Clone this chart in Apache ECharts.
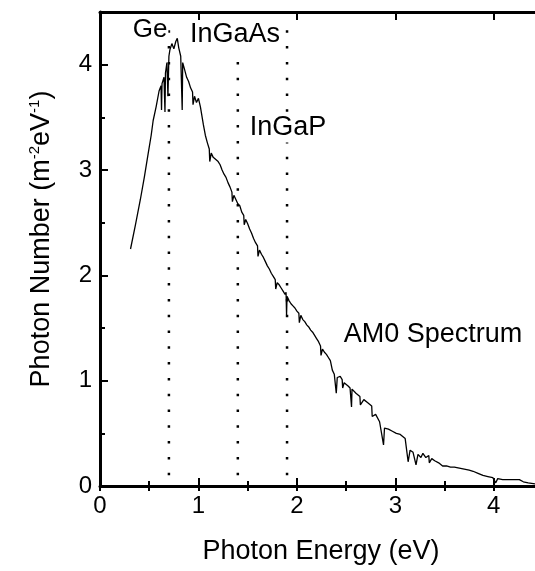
<!DOCTYPE html>
<html><head><meta charset="utf-8">
<script src="https://cdn.jsdelivr.net/npm/echarts@6/dist/echarts.min.js"></script>
<style>html,body{margin:0;padding:0;background:#fff}#c{width:535px;height:571px}</style>
</head><body><div id="c"></div>
<script>
// Photon energy (eV)
const energy = [
  0.31,0.36,0.41,0.45,0.49,0.52,0.54,0.57,0.60,0.62,0.625,0.63,0.65,0.66,0.665,0.68,0.69,0.70,0.71,0.73,
  0.75,0.77,0.785,0.80,0.82,0.835,0.84,0.86,0.88,0.90,0.92,0.94,0.945,0.96,0.98,1.00,1.02,1.05,1.07,1.09,1.11,1.115,
  1.13,1.15,1.17,1.20,1.22,1.24,1.26,1.28,1.30,1.32,1.34,1.345,1.36,1.38,1.40,1.42,1.44,1.46,1.465,1.48,1.50,1.52,
  1.54,1.56,1.58,1.60,1.605,1.62,1.64,1.66,1.68,1.70,1.72,1.74,1.76,1.78,1.785,1.80,1.82,1.84,1.86,1.88,1.89,1.895,
  1.90,1.92,1.94,1.96,1.98,2.00,2.02,2.025,2.04,2.06,2.08,2.10,2.12,2.14,2.16,2.18,2.20,2.22,2.24,2.245,2.26,2.28,
  2.30,2.32,2.34,2.36,2.38,2.40,2.41,2.44,2.46,2.465,2.48,2.50,2.52,2.54,2.555,2.56,2.60,2.64,2.645,2.68,2.72,2.76,2.765,
  2.80,2.84,2.88,2.89,2.93,2.97,3.01,3.05,3.10,3.13,3.15,3.18,3.21,3.23,3.26,3.28,3.31,3.34,3.345,3.37,3.40,
  3.44,3.48,3.52,3.56,3.60,3.65,3.70,3.75,3.79,3.84,3.89,3.94,3.99,4.02,4.04,4.09,4.15,4.20,4.26,4.30,
  4.35,4.42
];
// Photon number (m^-2 eV^-1)
const photonNumber = [
  2.25,2.48,2.72,2.93,3.16,3.33,3.47,3.60,3.75,3.80,3.57,3.82,3.88,3.55,3.92,4.02,3.70,4.08,4.14,4.20,
  4.15,4.22,4.25,4.16,4.08,3.57,4.02,3.95,3.88,3.84,3.78,3.74,3.62,3.70,3.64,3.68,3.60,3.43,3.33,3.26,3.20,3.08,
  3.16,3.12,3.11,3.08,3.05,3.00,2.96,2.93,2.88,2.84,2.79,2.70,2.76,2.72,2.68,2.66,2.60,2.57,2.48,2.53,2.49,2.44,
  2.40,2.35,2.31,2.28,2.18,2.24,2.20,2.17,2.13,2.09,2.06,2.02,1.99,1.96,1.87,1.93,1.91,1.88,1.85,1.82,1.84,1.62,
  1.80,1.76,1.73,1.71,1.69,1.66,1.64,1.55,1.62,1.58,1.56,1.53,1.51,1.48,1.46,1.43,1.40,1.37,1.33,1.24,1.30,1.27,
  1.25,1.22,1.19,1.10,1.06,0.88,1.03,1.04,1.01,0.93,0.98,0.97,0.95,0.93,0.75,0.92,0.88,0.85,0.77,0.82,0.79,0.76,0.66,
  0.68,0.61,0.39,0.55,0.54,0.52,0.50,0.49,0.45,0.23,0.34,0.32,0.20,0.30,0.27,0.31,0.27,0.29,0.22,0.26,0.24,
  0.22,0.19,0.19,0.18,0.18,0.17,0.16,0.15,0.14,0.12,0.10,0.09,0.08,0.03,0.07,0.06,0.06,0.06,0.06,0.04,
  0.03,0.02
];
// Band gaps of the sub-cells (eV) and their labels
const bandgapEnergies = [0.7, 1.4, 1.9];
const bandgapLineTop = 4.36;
const labelTexts = ['Ge', 'InGaAs', 'InGaP', 'AM0 Spectrum'];
const xTitle = 'Photon Energy (eV)';
const yTitle = 'Photon Number (m{sup|-2}eV{sup|-1})';
const axisMin = 0, axisMax = 4.5, majorStep = 1, minorStep = 0.5;

const FONT = 'Liberation Sans, Arial, Helvetica, sans-serif';
const chart = echarts.init(document.getElementById('c'), null, {renderer: 'canvas'});

function majorAxis(pos, showLabel) {
  return {
    type: 'value', position: pos, min: axisMin, max: axisMax, interval: majorStep,
    axisLine: {show: true, onZero: false, lineStyle: {color: '#000', width: 3}},
    axisTick: {show: true, inside: true, length: 8, lineStyle: {color: '#000', width: 2}},
    splitLine: {show: false},
    axisLabel: {
      show: showLabel, color: '#000', fontSize: 24, fontFamily: FONT, margin: 8,
      formatter: v => (Number.isInteger(v) ? String(v) : '')
    }
  };
}
function minorAxis(pos) {
  return {
    type: 'value', position: pos, min: axisMin, max: axisMax, interval: minorStep,
    axisLine: {show: false},
    axisTick: {show: true, inside: true, length: 5, lineStyle: {color: '#000', width: 2}},
    splitLine: {show: false},
    axisLabel: {show: false}
  };
}

const series = [{
  type: 'line',
  name: 'AM0',
  xAxisIndex: 0, yAxisIndex: 0,
  data: energy.map((e, i) => [e, photonNumber[i]]),
  showSymbol: false, symbol: 'none',
  lineStyle: {color: '#000', width: 1.3},
  z: 5, animation: false
}];
bandgapEnergies.forEach(e => {
  series.push({
    type: 'line', xAxisIndex: 0, yAxisIndex: 0,
    data: [[e, axisMin], [e, bandgapLineTop]],
    symbol: 'none',
    lineStyle: {color: '#000', width: 2.5, type: [2.5, 13.3], dashOffset: 5},
    z: 3, animation: false
  });
});

const textStyleBase = {fill: '#000', fontFamily: FONT, fontSize: 27, align: 'center', verticalAlign: 'middle',
  backgroundColor: '#fff', padding: [1, 1]};

chart.setOption({
  animation: false,
  backgroundColor: '#fff',
  grid: {left: 100, top: 12, bottom: 85, width: 443, containLabel: false, outerBoundsMode: 'none'},
  xAxis: [majorAxis('bottom', true), majorAxis('top', false), minorAxis('bottom'), minorAxis('top')],
  yAxis: [majorAxis('left', true), minorAxis('left')],
  series: series,
  graphic: [
    {type: 'text', x: 150, y: 30, z: 100, style: Object.assign({}, textStyleBase, {text: labelTexts[0], fontSize: 26})},
    {type: 'text', x: 235, y: 35, z: 100, style: Object.assign({}, textStyleBase, {text: labelTexts[1]})},
    {type: 'text', x: 288, y: 128, z: 100, style: Object.assign({}, textStyleBase, {text: labelTexts[2]})},
    {type: 'text', x: 433, y: 335, z: 100, style: Object.assign({}, textStyleBase, {text: labelTexts[3]})},
    {type: 'text', x: 321, y: 552, z: 100, style: Object.assign({}, textStyleBase, {text: xTitle, fontSize: 27, backgroundColor: 'transparent'})},
    {type: 'text', x: 42, y: 239, rotation: Math.PI / 2, z: 100,
      style: {text: yTitle, fill: '#000', fontFamily: FONT, fontSize: 27, align: 'center', verticalAlign: 'middle',
        rich: {sup: {fontSize: 15, fontFamily: FONT, fill: '#000', verticalAlign: 'top', lineHeight: 30}}}}
  ]
});
</script></body></html>
